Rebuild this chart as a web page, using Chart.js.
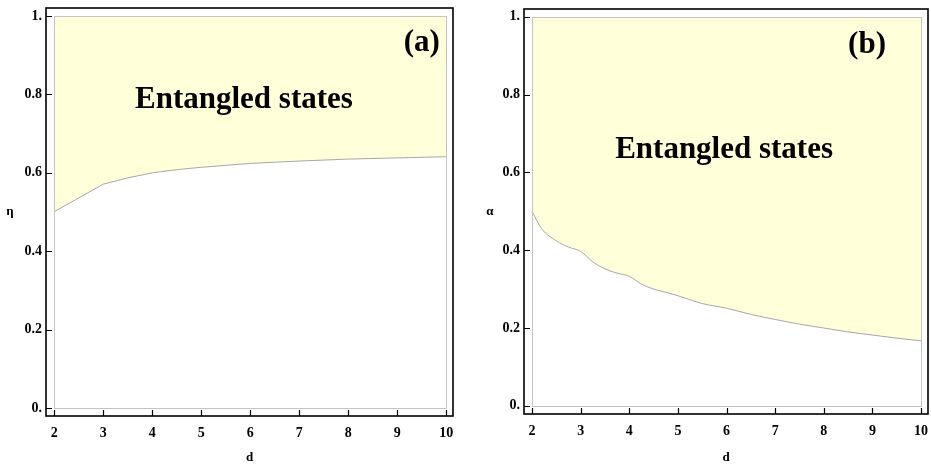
<!DOCTYPE html>
<html>
<head>
<meta charset="utf-8">
<script src="https://cdn.jsdelivr.net/npm/chart.js@4/dist/chart.umd.min.js"></script>
<style>
  html, body { margin: 0; padding: 0; background: #fff; }
  #wrap { position: relative; width: 931px; height: 468px; }
  canvas { position: absolute; top: 0; }
</style>
</head>
<body>
<div id="wrap">
  <canvas id="chartA" width="465" height="468" style="left:0"></canvas>
  <canvas id="chartB" width="466" height="468" style="left:465px"></canvas>
</div>
<script>
// panel (a): threshold eta vs dimension d
const dA = [2, 3, 3.5, 4, 4.5, 5, 6, 7, 8, 9, 10];
const etaA = [0.501, 0.571, 0.587, 0.600, 0.608, 0.614, 0.624, 0.630, 0.635, 0.638, 0.641];

// panel (b): threshold alpha vs dimension d
const dB = [2, 2.2, 2.5, 2.75, 3, 3.25, 3.5, 3.75, 4, 4.25, 4.5, 4.75, 5, 5.5, 6, 6.5, 7, 7.5, 8, 8.5, 9, 9.5, 10];
const alphaB = [0.5, 0.455, 0.424, 0.408, 0.397, 0.37, 0.352, 0.341, 0.333, 0.313, 0.3, 0.292, 0.283, 0.263, 0.251, 0.235, 0.222, 0.21, 0.2, 0.19, 0.182, 0.174, 0.167];

const xTicks = [2, 3, 4, 5, 6, 7, 8, 9, 10];
const yTicks = [0, 0.2, 0.4, 0.6, 0.8, 1];
const yTickLabels = ['0.', '0.2', '0.4', '0.6', '0.8', '1.'];
const regionLabel = 'Entangled states';

const serif = '"Liberation Serif", "Times New Roman", serif';

function framePlugin(opts) {
  return {
    id: 'frame' + opts.tag,
    afterDraw(chart) {
      const ctx = chart.ctx;
      const a = chart.chartArea;
      const xs = chart.scales.x, ys = chart.scales.y;
      ctx.save();
      // plot range border
      ctx.strokeStyle = '#c4c4c4';
      ctx.lineWidth = 1;
      const x0 = xs.getPixelForValue(2), x1 = xs.getPixelForValue(10);
      const y0 = ys.getPixelForValue(0), y1 = ys.getPixelForValue(1);
      ctx.strokeRect(Math.round(x0) + 0.5, Math.round(y1) + 0.5, Math.round(x1 - x0), Math.round(y0 - y1));
      // black frame
      ctx.strokeStyle = '#000';
      ctx.lineWidth = 1.6;
      ctx.strokeRect(a.left, a.top, a.right - a.left, a.bottom - a.top);
      // inward ticks
      ctx.lineWidth = 1.2;
      ctx.beginPath();
      xTicks.forEach(v => {
        const px = Math.round(xs.getPixelForValue(v)) + 0.5;
        ctx.moveTo(px, a.bottom);
        ctx.lineTo(px, a.bottom - 6);
      });
      yTicks.forEach(v => {
        const py = Math.round(ys.getPixelForValue(v)) + 0.5;
        ctx.moveTo(a.left, py);
        ctx.lineTo(a.left + 6, py);
      });
      ctx.stroke();
      // annotations
      ctx.fillStyle = '#000';
      ctx.textBaseline = 'middle';
      ctx.font = 'bold 31px ' + serif;
      ctx.textAlign = 'center';
      ctx.fillText(regionLabel, xs.getPixelForValue(opts.textX), ys.getPixelForValue(opts.textY));
      ctx.textAlign = 'right';
      ctx.fillText(opts.panel, xs.getPixelForValue(opts.panelX), ys.getPixelForValue(opts.panelY));
      // axis titles
      ctx.font = 'bold 13px ' + serif;
      ctx.textAlign = 'center';
      ctx.fillText(opts.yTitle, opts.yTitleX, (a.top + a.bottom) / 2);
      ctx.fillText('d', (a.left + a.right) / 2, 458);
      ctx.restore();
    }
  };
}

function makeChart(id, xData, yData, opts) {
  const points = xData.map((x, i) => ({ x: x, y: yData[i] }));
  return new Chart(document.getElementById(id), {
    type: 'line',
    data: {
      datasets: [{
        data: points,
        borderColor: '#a6a6a6',
        borderWidth: 1,
        pointRadius: 0,
        tension: opts.tension,
        cubicInterpolationMode: opts.tension ? 'monotone' : 'default',
        fill: { value: 1 },
        backgroundColor: 'rgb(255, 255, 218)'
      }]
    },
    options: {
      responsive: false,
      animation: false,
      devicePixelRatio: 1,
      layout: { padding: opts.padding },
      plugins: { legend: { display: false }, tooltip: { enabled: false } },
      scales: {
        x: {
          type: 'linear',
          min: opts.xMin, max: opts.xMax,
          grid: { display: false, drawTicks: false },
          border: { display: false },
          afterBuildTicks: s => { s.ticks = xTicks.map(v => ({ value: v })); },
          afterFit: s => { s.height = opts.xHeight; s.paddingLeft = 0; s.paddingRight = 0; },
          ticks: {
            padding: 9,
            color: '#000',
            font: { family: serif, size: 14, weight: 'bold' },
            callback: v => String(v)
          }
        },
        y: {
          type: 'linear',
          min: opts.yMin, max: opts.yMax,
          grid: { display: false, drawTicks: false },
          border: { display: false },
          afterBuildTicks: s => { s.ticks = yTicks.map(v => ({ value: v })); },
          afterFit: s => { s.width = opts.yWidth; s.paddingTop = 0; s.paddingBottom = 0; },
          ticks: {
            padding: 4,
            color: '#000',
            font: { family: serif, size: 14, weight: 'bold' },
            callback: v => yTickLabels[yTicks.indexOf(Math.round(v * 10) / 10)]
          }
        }
      }
    },
    plugins: [framePlugin(opts)]
  });
}

makeChart('chartA', dA, etaA, {
  tag: 'A', tension: 0,
  padding: { left: 0, top: 8, right: 12, bottom: 0 },
  xHeight: 52, yWidth: 46,
  xMin: 1.83, xMax: 10.137, yMin: -0.0204, yMax: 1.0204,
  textX: 5.87, textY: 0.786, panel: '(a)', panelX: 9.87, panelY: 0.931,
  yTitle: 'η', yTitleX: 10
});

makeChart('chartB', dB, alphaB, {
  tag: 'B', tension: 0.3,
  padding: { left: 0, top: 9, right: 3, bottom: 0 },
  xHeight: 54, yWidth: 59,
  xMin: 1.835, xMax: 10.144, yMin: -0.021, yMax: 1.02,
  textX: 5.95, textY: 0.658, panel: '(b)', panelX: 9.28, panelY: 0.928,
  yTitle: 'α', yTitleX: 25
});
</script>
</body>
</html>
